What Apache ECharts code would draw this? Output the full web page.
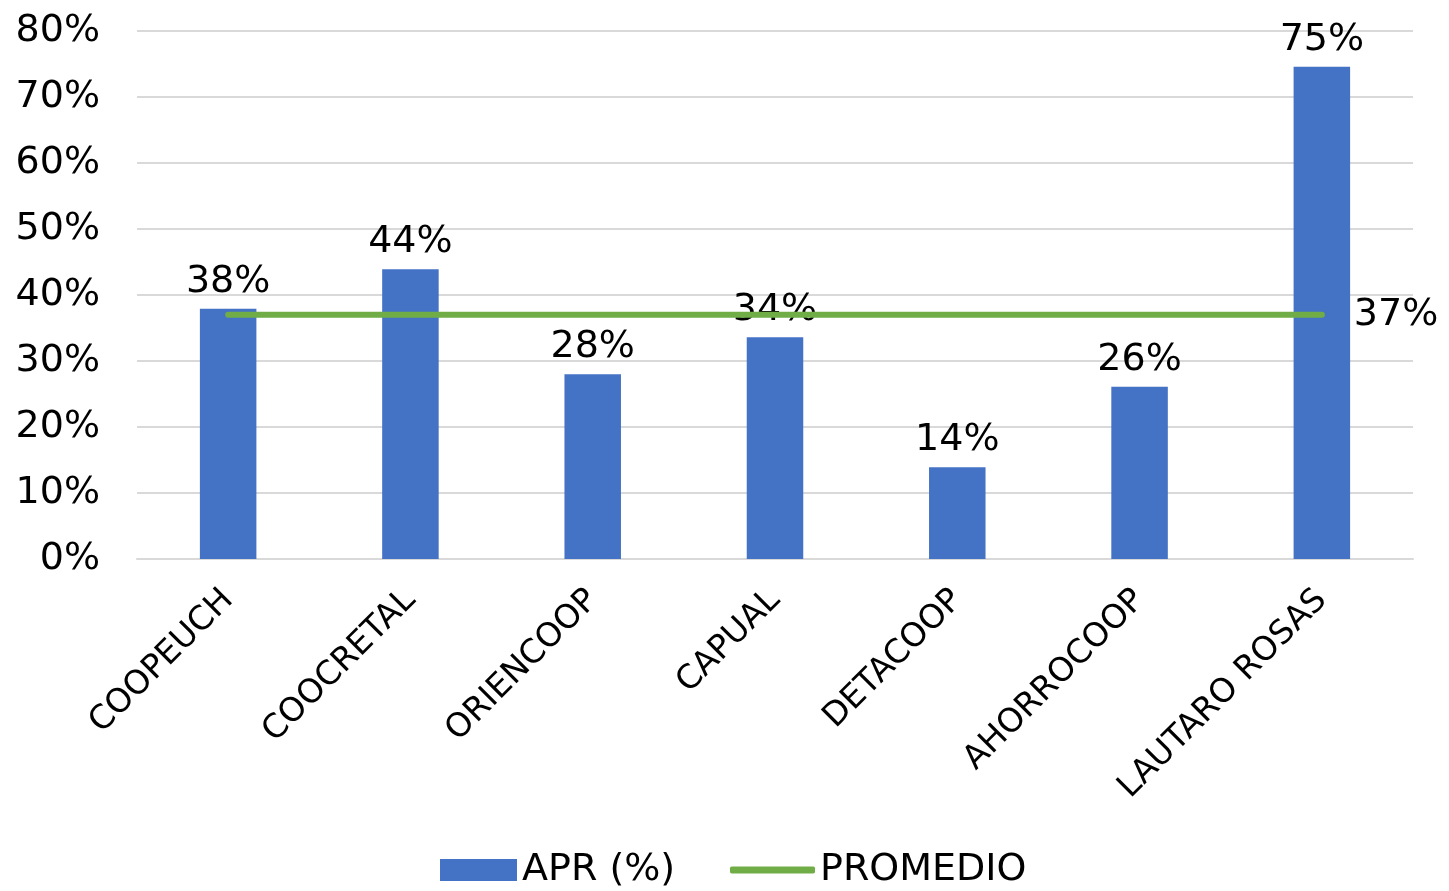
<!DOCTYPE html>
<html>
<head>
<meta charset="utf-8">
<script src="https://cdn.jsdelivr.net/npm/echarts@6/dist/echarts.min.js"></script>
<style>html,body{margin:0;padding:0;background:#fff}#c{width:1449px;height:891px}</style>
</head>
<body>
<div id="c"></div>
<script>
const categories = ['COOPEUCH','COOCRETAL','ORIENCOOP','CAPUAL','DETACOOP','AHORROCOOP','LAUTARO ROSAS'];
const aprValues = [37.9, 43.9, 28.0, 33.6, 13.9, 26.1, 74.6];
const promedioValues = [37, 37, 37, 37, 37, 37, 37];
const yTicks = [0, 10, 20, 30, 40, 50, 60, 70, 80];

const FONT = 'DejaVu Sans';
const chart = echarts.init(document.getElementById('c'));
chart.setOption({
  animation: false,
  backgroundColor: '#ffffff',
  textStyle: { fontFamily: FONT },
  grid: { left: 137, right: 36, top: 31, height: 528, containLabel: false },
  legend: [
    {
      left: 435,
      top: 846,
      itemWidth: 77,
      itemHeight: 22,
      itemGap: 8,
      textStyle: { fontFamily: FONT, fontSize: 38, color: '#000' },
      data: [{ name: 'APR (%)', icon: 'rect' }]
    },
    {
      left: 725,
      top: 846,
      itemWidth: 85,
      itemHeight: 7,
      textStyle: { fontFamily: FONT, fontSize: 38, color: '#000' },
      data: [{ name: 'PROMEDIO', icon: 'roundRect' }]
    }
  ],
  xAxis: {
    type: 'category',
    data: categories,
    boundaryGap: true,
    axisLine: { show: true, lineStyle: { color: '#d9d9d9', width: 2 } },
    axisTick: { show: false },
    axisLabel: { rotate: 45, interval: 0, margin: 36, fontFamily: FONT, fontSize: 33, color: '#000' }
  },
  yAxis: {
    type: 'value',
    min: yTicks[0],
    max: yTicks[yTicks.length - 1],
    interval: 10,
    axisLine: { show: false },
    axisTick: { show: false },
    splitLine: { lineStyle: { color: '#d9d9d9', width: 2 } },
    axisLabel: { margin: 37, fontFamily: FONT, fontSize: 38, color: '#000', formatter: v => v + '%' }
  },
  series: [
    {
      name: 'APR (%)',
      type: 'bar',
      data: aprValues,
      barWidth: '31%',
      itemStyle: { color: '#4472C4' },
      label: { show: true, position: 'top', distance: 8, fontFamily: FONT, fontSize: 38, color: '#000',
        formatter: p => Math.round(p.value) + '%' }
    },
    {
      name: 'PROMEDIO',
      type: 'line',
      data: promedioValues,
      symbol: 'none',
      lineStyle: { color: '#70AD47', width: 6, cap: 'round' },
      itemStyle: { color: '#70AD47' },
      z: 3,
      label: { show: false },
      endLabel: { show: true, distance: 32, fontFamily: FONT, fontSize: 38, color: '#000',
        formatter: p => Math.round(p.value) + '%' }
    }
  ]
});
</script>
</body>
</html>
